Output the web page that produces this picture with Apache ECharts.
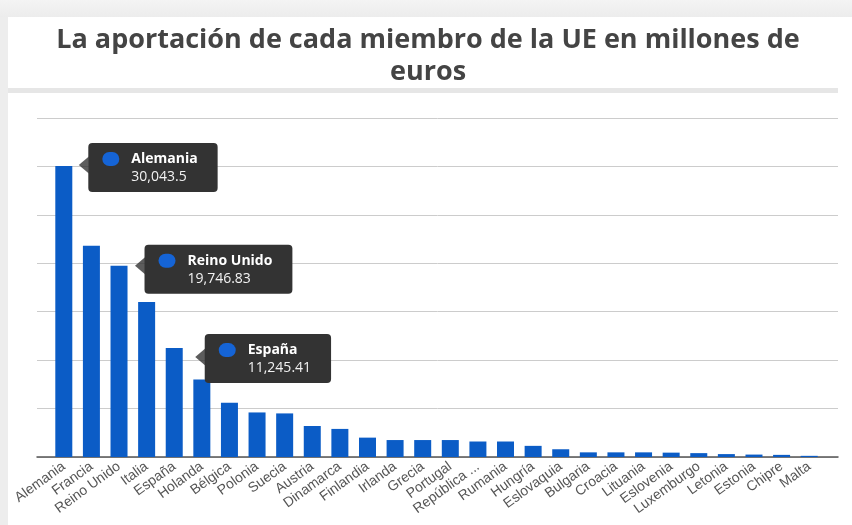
<!DOCTYPE html>
<html>
<head>
<meta charset="utf-8">
<script src="https://cdn.jsdelivr.net/npm/echarts@6/dist/echarts.min.js"></script>
<style>
  html, body { margin: 0; padding: 0; background: #fff; }
  #chart { width: 852px; height: 525px; }
</style>
</head>
<body>
<div id="chart"></div>
<script>
// datos (millones de euros)
const paises = ["Alemania", "Francia", "Reino Unido", "Italia", "España", "Holanda", "Bélgica", "Polonia",
  "Suecia", "Austria", "Dinamarca", "Finlandia", "Irlanda", "Grecia", "Portugal", "República Checa",
  "Rumania", "Hungría", "Eslovaquia", "Bulgaria", "Croacia", "Lituania", "Eslovenia", "Luxemburgo",
  "Letonia", "Estonia", "Chipre", "Malta"];
const aportacion = [30043.5, 21800, 19746.83, 16000, 11245.41, 8000, 5600, 4600,
  4500, 3200, 2900, 2000, 1750, 1750, 1750, 1600,
  1600, 1150, 800, 480, 480, 480, 450, 400,
  300, 250, 220, 120];
const yTicks = [0, 5000, 10000, 15000, 20000, 25000, 30000, 35000];

// posicion de las cajas tipo tooltip (px, respecto a la barra)
const cajas = {
  "Alemania": { label: [33, -23], flecha: [20, -1] },
  "Reino Unido": { label: [34, -21], flecha: [21, 0] },
  "España": { label: [39, -14], flecha: [26, 9] },
};

const azul = "#0b5cc6";

let chart = echarts.init(document.getElementById("chart"));

const barData = aportacion.map(function (v, i) {
  const c = cajas[paises[i]];
  if (!c) return v;
  return {
    value: v,
    label: { show: true, position: c.label, align: "left", verticalAlign: "top" },
  };
});

const flechaData = aportacion.map(function (v, i) {
  const c = cajas[paises[i]];
  if (!c) return "-";
  return { value: v, symbolOffset: c.flecha };
});

const option = {
  backgroundColor: "#fff",
  animation: false,
  graphic: [
    // marco de la pagina
    { type: "rect", shape: { x: 0, y: 0, width: 852, height: 17 },
      style: { fill: new echarts.graphic.LinearGradient(0, 0, 0, 1, [
        { offset: 0, color: "#f4f4f4" }, { offset: 1, color: "#ececec" }]) }, silent: true },
    { type: "rect", shape: { x: 0, y: 17, width: 8, height: 508 }, style: { fill: "#ededed" }, silent: true },
    { type: "rect", shape: { x: 8, y: 88, width: 830, height: 5 }, style: { fill: "#e6e6e6" }, silent: true },
  ],
  title: {
    text: "La aportación de cada miembro de la UE en millones de\neuros",
    left: 423,
    textAlign: "center",
    top: 19,
    textStyle: {
      fontFamily: "Open Sans",
      fontSize: 27,
      fontWeight: "bold",
      color: "#444",
      lineHeight: 32,
    },
  },
  grid: [
    { left: 37, right: 14, top: 118, bottom: 68 },
    { left: 50, right: 29, top: 118, bottom: 68 },
  ],
  xAxis: [
    {
      // solo la linea base
      gridIndex: 0, type: "value", min: 0, max: 1,
      axisLine: { show: true, lineStyle: { color: "#555", width: 1.5 } },
      axisTick: { show: false }, axisLabel: { show: false }, splitLine: { show: false },
    },
    {
      gridIndex: 1, type: "category", data: paises,
      axisLine: { show: false }, axisTick: { show: false },
      axisLabel: {
        interval: 0, rotate: 36, margin: 8,
        fontFamily: "Liberation Sans", fontSize: 14, color: "#555",
        formatter: function (v) { return v.length > 12 ? v.slice(0, 9) + " ..." : v; },
      },
    },
  ],
  yAxis: [
    {
      gridIndex: 0, type: "value", min: yTicks[0], max: yTicks[yTicks.length - 1],
      interval: yTicks[1] - yTicks[0],
      axisLine: { show: false }, axisTick: { show: false }, axisLabel: { show: false },
      splitLine: { show: true, lineStyle: { color: "#cccccc", width: 1 } },
    },
    {
      gridIndex: 1, type: "value", min: yTicks[0], max: yTicks[yTicks.length - 1],
      show: false, splitLine: { show: false },
    },
  ],
  series: [
    {
      type: "bar",
      xAxisIndex: 1, yAxisIndex: 1,
      data: barData,
      barWidth: 17,
      itemStyle: { color: azul },
      z: 3,
      label: {
        show: false,
        backgroundColor: "#333",
        borderRadius: 4,
        padding: [7, 20, 6, 14],
        formatter: function (p) {
          return "{d|}{g|}{n|" + p.name + "}\n{s|}{v|" + p.value.toLocaleString("en-US") + "}";
        },
        rich: {
          d: { width: 17, height: 14, borderRadius: 8, backgroundColor: "#1564d6" },
          g: { width: 12 },
          n: { color: "#fff", fontFamily: "Open Sans", fontWeight: "bold", fontSize: 14, lineHeight: 18 },
          s: { width: 29 },
          v: { color: "#f2f2f2", fontFamily: "Open Sans", fontSize: 14, lineHeight: 18 },
        },
      },
    },
    {
      // flechitas de las cajas
      type: "scatter",
      xAxisIndex: 1, yAxisIndex: 1,
      data: flechaData,
      symbol: "triangle",
      symbolSize: [17, 10],
      symbolRotate: 90,
      itemStyle: { color: "#333" },
      z: 4,
      silent: true,
    },
  ],
};

chart.setOption(option);
</script>
</body>
</html>
